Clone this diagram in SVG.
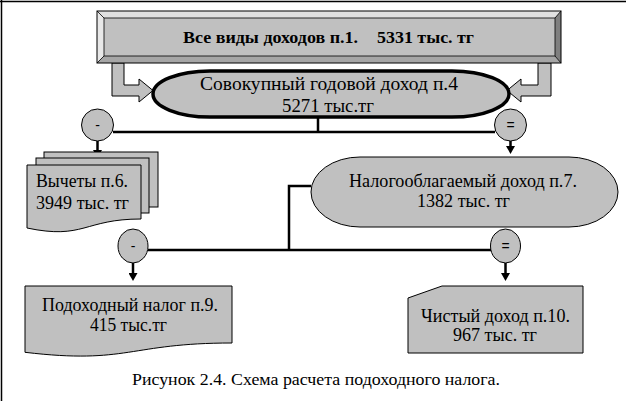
<svg xmlns="http://www.w3.org/2000/svg" width="626" height="401" viewBox="0 0 626 401">
<defs>
<style>
.sh{fill:#c0c0c0;stroke:#000;stroke-width:1}
.t{font-family:"Liberation Serif","Times New Roman",serif;fill:#000}
.b{font-weight:bold}
.con{fill:none;stroke:#000;stroke-width:2.5}
.op{fill:#c0c0c0;stroke:#000;stroke-width:1}
.opt{font-family:"Liberation Sans",Arial,sans-serif;font-size:14px;text-anchor:middle;fill:#000}
</style>
<marker id="ah" markerWidth="9" markerHeight="9" refX="3" refY="4.5" orient="auto" markerUnits="userSpaceOnUse">
<path d="M0,0 L8,4.5 L0,9 Z" fill="#000"/>
</marker>
</defs>
<rect width="626" height="401" fill="#fff"/>
<path d="M0,1.5 H626 M1.5,0 V401" stroke="#000" stroke-width="1.5" fill="none"/>

<g id="connectors">
<polygon class="sh" points="112,63 124,63 124,85 139,85 139,79 153,90.5 139,102 139,96 112,96"/>
<polygon class="sh" points="551,63 538,63 538,85 521,85 521,79 507,90.5 521,102 521,96 551,96"/>
<path class="con" d="M318,117 V132 M113,132 H495"/>
<path class="con" d="M148,250 H491 M289,250 V186 H311"/>
<path class="con" d="M97.5,141 V153" marker-end="url(#ah)"/>
<path class="con" d="M510.5,141 V149" marker-end="url(#ah)"/>
<path class="con" d="M133,263 V276" marker-end="url(#ah)"/>
<path class="con" d="M505.5,263 V276" marker-end="url(#ah)"/>
</g>

<g id="all-income">
<rect x="97" y="11" width="464" height="52" fill="#c0c0c0"/>
<polygon points="97,11 561,11 555,18 104,18" fill="#e0e0e0"/>
<polygon points="97,11 104,18 104,56 97,63" fill="#e8e8e8"/>
<polygon points="561,11 561,63 555,56 555,18" fill="#7f7f7f"/>
<polygon points="97,63 104,56 555,56 561,63" fill="#a6a6a6"/>
<rect x="97" y="11" width="464" height="52" fill="none" stroke="#000" stroke-width="1"/>
<rect x="104" y="18" width="451" height="38" fill="none" stroke="#000" stroke-width="0.8"/>
<path d="M97,11 L104,18 M561,11 L555,18 M97,63 L104,56 M561,63 L555,56" stroke="#000" stroke-width="0.8"/>
<text class="t b" x="183" y="43" font-size="16" textLength="175" lengthAdjust="spacingAndGlyphs">Все виды доходов п.1.</text>
<text class="t b" x="377" y="43" font-size="16" textLength="97" lengthAdjust="spacingAndGlyphs">5331 тыс. тг</text>
</g>

<g id="total-income">
<rect x="153" y="71" width="356" height="46" rx="57" ry="23" fill="#c0c0c0" stroke="#000" stroke-width="3.5"/>
<text class="t" x="200" y="90" font-size="19.5" textLength="258" lengthAdjust="spacingAndGlyphs">Совокупный годовой доход п.4</text>
<text class="t" x="282" y="112" font-size="19.5" textLength="92" lengthAdjust="spacingAndGlyphs">5271 тыс.тг</text>
</g>

<g id="op-minus-1">
<circle class="op" cx="97.5" cy="125" r="16"/>
<text class="opt" x="97.5" y="130">-</text>
</g>
<g id="op-eq-1">
<circle class="op" cx="510.5" cy="125" r="16"/>
<text class="opt" x="510.5" y="130">=</text>
</g>

<g id="deductions">
<rect class="sh" x="44" y="152" width="114" height="55"/>
<rect class="sh" x="36" y="158" width="113" height="55"/>
<path class="sh" d="M27,165 H141 V219 C84,219 84,240 27,228 Z"/>
<text class="t" x="36" y="187" font-size="18" textLength="92" lengthAdjust="spacingAndGlyphs">Вычеты п.6.</text>
<text class="t" x="36" y="209" font-size="18" textLength="93" lengthAdjust="spacingAndGlyphs">3949 тыс. тг</text>
</g>

<g id="taxable-income">
<rect class="sh" x="311" y="157" width="307" height="70" rx="49" ry="35"/>
<text class="t" x="349" y="187" font-size="18" textLength="228" lengthAdjust="spacingAndGlyphs">Налогооблагаемый доход п.7.</text>
<text class="t" x="417" y="207" font-size="18" textLength="93" lengthAdjust="spacingAndGlyphs">1382 тыс. тг</text>
</g>

<g id="op-minus-2">
<ellipse class="op" cx="133" cy="246" rx="15" ry="17"/>
<text class="opt" x="133" y="251">-</text>
</g>
<g id="op-eq-2">
<ellipse class="op" cx="505.5" cy="246" rx="15" ry="17"/>
<text class="opt" x="505.5" y="251">=</text>
</g>

<g id="income-tax">
<path class="sh" d="M25,286 H232 V343 C128.5,343 128.5,364.6 25,352.3 Z"/>
<text class="t" x="42" y="311" font-size="18" textLength="176" lengthAdjust="spacingAndGlyphs">Подоходный налог п.9.</text>
<text class="t" x="90" y="331" font-size="18" textLength="77" lengthAdjust="spacingAndGlyphs">415 тыс.тг</text>
</g>

<g id="net-income">
<polygon class="sh" points="442,286 583,286 583,353 408,353 408,298" stroke-width="1.5"/>
<text class="t" x="421" y="322" font-size="18" textLength="149" lengthAdjust="spacingAndGlyphs">Чистый доход п.10.</text>
<text class="t" x="453" y="341" font-size="18" textLength="84" lengthAdjust="spacingAndGlyphs">967 тыс. тг</text>
</g>

<text class="t" x="132" y="385" font-size="17" textLength="368" lengthAdjust="spacingAndGlyphs">Рисунок 2.4. Схема расчета подоходного налога.</text>
</svg>
